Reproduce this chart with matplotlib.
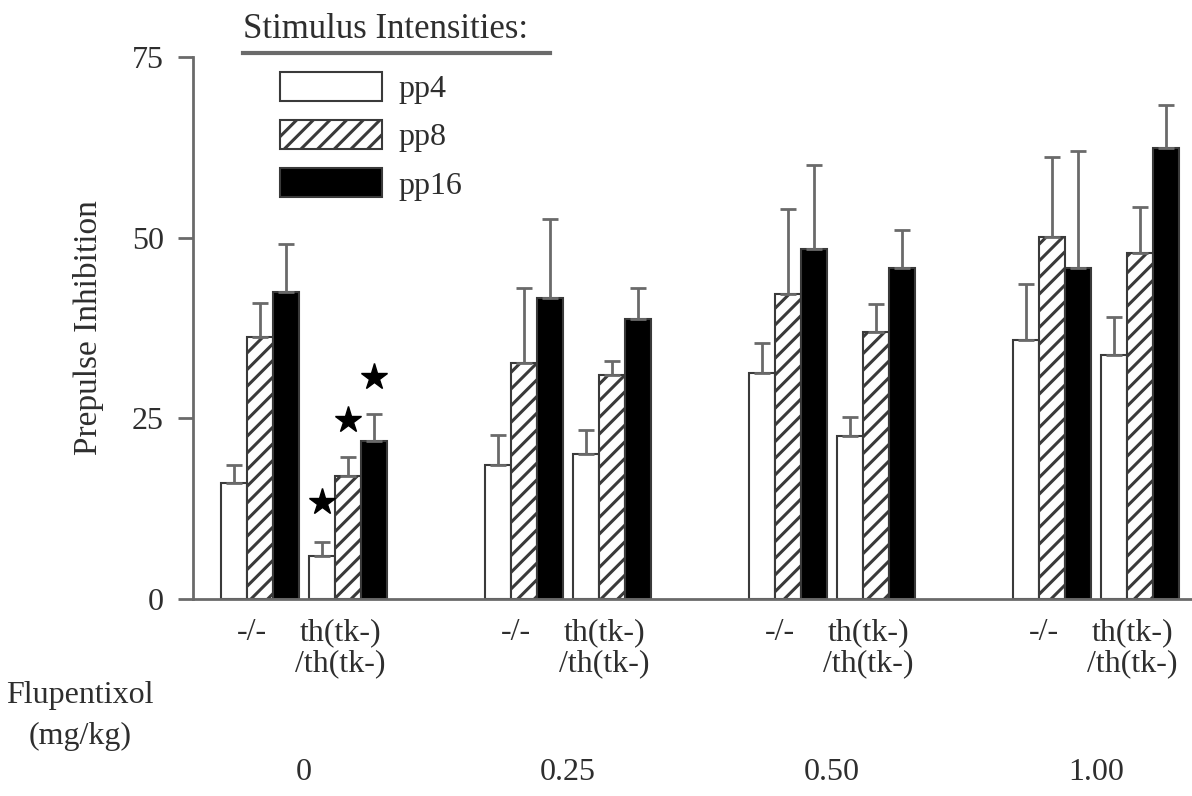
import matplotlib
matplotlib.use('Agg')
import matplotlib.pyplot as plt
from matplotlib.patches import Patch

# DATOS
# -----
doses = ['0', '0.25', '0.50', '1.00']
genotypes = ['-/-', 'th(tk-)\n/th(tk-)']
series = ['pp4', 'pp8', 'pp16']

# one value per (dose, genotype): 0/-/-, 0/th, 0.25/-/-, 0.25/th, ...
pp4_mean = [16.0, 5.9, 18.5, 20.1, 31.3, 22.5, 35.8, 33.7]
pp4_err = [2.5, 2.0, 4.2, 3.3, 4.1, 2.7, 7.8, 5.3]
pp8_mean = [36.2, 17.0, 32.6, 31.0, 42.2, 36.9, 50.1, 47.9]
pp8_err = [4.8, 2.6, 10.5, 1.9, 11.7, 3.9, 11.0, 6.3]
pp16_mean = [42.5, 21.9, 41.6, 38.7, 48.4, 45.8, 45.8, 62.4]
pp16_err = [6.6, 3.7, 11.0, 4.3, 11.6, 5.2, 16.2, 5.9]

# significance stars above th(tk-)/th(tk-) at dose 0
star_y = [13.4, 24.8, 30.7]

yticks = [0, 25, 50, 75]

# Estilo
plt.rcParams['font.family'] = ['Liberation Serif', 'DejaVu Serif']
plt.rcParams['hatch.linewidth'] = 2.2
fs = 23
gris = '#6a6a6a'
texto = '#2e2e2e'

fig = plt.figure(figsize=(11.92, 7.96), dpi=100)
ax = fig.add_axes([193 / 1192, 1 - 599 / 796, 1 - 193 / 1192, (599 - 57) / 796])

# posiciones (unidades = ancho de barra)
w = 1.02
base = 2.63
paso_dosis = 10.35
paso_geno = 3.45
centros = []
for d in range(len(doses)):
    for g in range(len(genotypes)):
        centros.append(base + d * paso_dosis + g * paso_geno)

medias = [pp4_mean, pp8_mean, pp16_mean]
errores = [pp4_err, pp8_err, pp16_err]
caras = ['white', 'white', 'black']
tramas = [None, '//', None]

for k in range(3):
    xs = [c + (k - 1) * w for c in centros]
    ax.bar(xs, medias[k], width=w, color=caras[k], edgecolor='#3a3a3a',
           linewidth=1.5, hatch=tramas[k], zorder=2)
    ax.errorbar(xs, medias[k], yerr=[[0] * len(xs), errores[k]], fmt='none',
                ecolor=gris, elinewidth=2, capsize=5.5, capthick=2, zorder=3)

# estrellas
xs_star = [centros[1] + (k - 1) * w for k in range(3)]
ax.plot(xs_star, star_y, linestyle='none', marker='*', markersize=20,
        color='black', zorder=4)

# ejes
ax.set_xlim(0, (1192 - 193) / 25.5)
ax.set_ylim(0, 75)
ax.set_yticks(yticks)
ax.set_yticklabels([str(t) for t in yticks], fontsize=fs, color=texto)
ax.tick_params(axis='y', length=11, width=2, color=gris, pad=10)
ax.set_xticks([c - 0.3 for c in centros])
ax.set_xticklabels(genotypes * len(doses), fontsize=fs, color=texto,
                   linespacing=1.1)
ax.tick_params(axis='x', length=0, pad=14)
for lado in ['top', 'right']:
    ax.spines[lado].set_visible(False)
for lado in ['left', 'bottom']:
    ax.spines[lado].set_color(gris)
    ax.spines[lado].set_linewidth(2)
ax.spines['left'].set_zorder(5)

ax.set_ylabel('Prepulse Inhibition', fontsize=24, color=texto, labelpad=20)

# dosis
for d, lab in enumerate(doses):
    xc = base + d * paso_dosis + paso_geno / 2
    ax.text(xc, -0.321, lab, transform=ax.get_xaxis_transform(), ha='center',
            va='center', fontsize=fs, color=texto)
fig.text(80 / 1192, 1 - 716 / 796, 'Flupentixol\n(mg/kg)', ha='center',
         va='center', fontsize=fs, color=texto, linespacing=1.5)

# leyenda
handles = [Patch(facecolor=caras[k], edgecolor='#3a3a3a', linewidth=1.5,
                 hatch=tramas[k], label=series[k]) for k in range(3)]
fig.legend(handles=handles, loc='upper left',
           bbox_to_anchor=(280 / 1192, 1 - 72 / 796), frameon=False,
           fontsize=fs, handlelength=3.2, handleheight=1.0,
           labelspacing=0.5, handletextpad=0.5, borderpad=0,
           borderaxespad=0, labelcolor=texto)
fig.text(243 / 1192, 1 - 30 / 796, 'Stimulus Intensities:', ha='left',
         va='center', fontsize=25, color=texto)
fig.add_artist(plt.Line2D([243 / 1192, 550 / 1192], [1 - 53 / 796, 1 - 53 / 796],
                          color=gris, linewidth=3))

fig.savefig('out.png', dpi=100)
